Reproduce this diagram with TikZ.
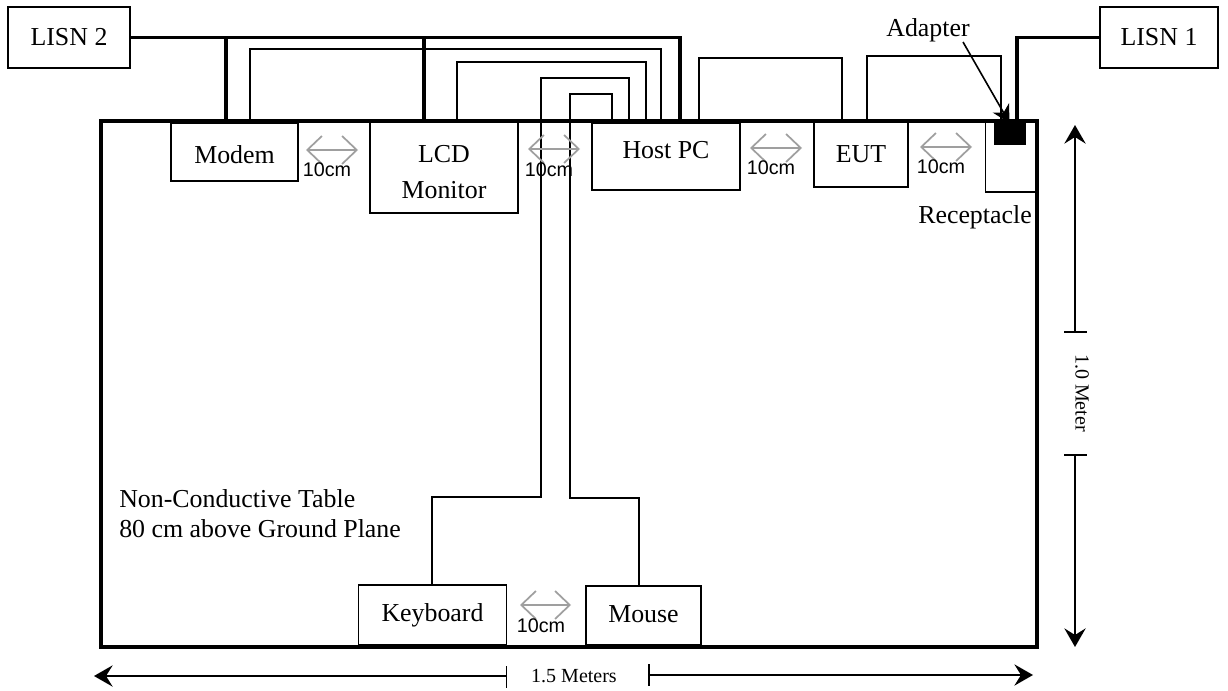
\documentclass[tikz,border=0pt]{standalone}
\usepackage{fontspec}
\setmainfont{Liberation Serif}
\newfontfamily\gapfont{Liberation Sans}
\usetikzlibrary{arrows.meta}
\newcommand{\nudge}[2]{\raisebox{#1}[\height][\depth]{#2}}

\begin{document}
\begin{tikzpicture}[
  x=0.75pt, y=-0.75pt,
  font=\fontsize{19.4}{22.5}\selectfont,
  box/.style 2 args={draw, line width=1.2pt, fill=white, align=center, inner sep=0pt,
              outer sep=0pt, minimum width=#1*0.75pt, minimum height=#2*0.75pt},
  power/.style={line width=2.6pt},
  cable/.style={line width=1.25pt},
  gap/.style={draw=gray!75, line width=1.3pt,
              {Straight Barb[length=11pt,width=21pt]}-{Straight Barb[length=11pt,width=21pt]}},
  gaptext/.style={font=\gapfont\fontsize{14.8}{16}\selectfont, inner sep=0pt},
  dim/.style={line width=1.2pt, -{Stealth[length=14pt,width=16pt,inset=5pt]}},
  dimtext/.style={font=\fontsize{15}{16}\selectfont, inner sep=0pt}]
\useasboundingbox (0,0) rectangle (1228,691);

% units on the table
\node[box={127}{58}] (modem) at (234.5,152) {\nudge{-2.2pt}{Modem}};
\node[box={148}{91}] (lcd) at (444,167.5) {\nudge{-3.5pt}{LCD}\\[5pt]\nudge{-3.5pt}{Monitor}};
\node[box={148}{67}] (host) at (666,156.5) {\nudge{4.5pt}{Host PC}};
\node[box={94}{65}] (eut) at (861,154.5) {EUT};
\node[box={51}{70}] (recept) at (1011,157) {};
\node[draw, fill=black, inner sep=0pt, outer sep=0pt, minimum width=23.25pt,
  minimum height=15.75pt] (adapter) at (1009.5,133.5) {};
\node[box={148}{60}] (keyboard) at (432.5,615) {Keyboard};
\node[box={115}{59}] (mouse) at (643.5,615.5) {\nudge{1pt}{Mouse}};
\node[box={122}{61}] (lisn2) at (69,37.5) {LISN 2};
\node[box={118}{61}] (lisn1) at (1159,37.5) {LISN 1};
\node[inner sep=0pt] (recepttext) at (975,217) {Receptacle};
\node[inner sep=0pt] (adaptertext) at (928,30) {Adapter};

% table
\node[box={936}{526}, line width=2.4pt, fill=none] (table) at (569,384) {};
\node[align=left, anchor=west, inner sep=0pt] (tabletext) at (119,514)
  {Non-Conductive Table\\80 cm above Ground Plane};

% end points on the table edge
\coordinate (pm) at (226,121);
\coordinate (pl) at (424,121);
\coordinate (ph) at (680,121);
\coordinate (pa) at (1017,121);

% power
\draw[power] (lisn2.east) -| (ph);
\draw[power] (pm) -- (pm |- lisn2.east);
\draw[power] (pl) -- (pl |- lisn2.east);
\draw[power] (lisn1.west) -| (pa);

% signal cables
\draw[cable] (250,121) |- (661,49) -- (661,121);
\draw[cable] (457,121) |- (646,62) -- (646,121);
\draw[cable] (keyboard.north -| 432,0) |- (541,497) |- (629,78) -- (629,121);
\draw[cable] (mouse.north -| 639,0) |- (570,498) |- (612,94) -- (612,121);
\draw[cable] (699,121) |- (842,58) -- (842,121);
\draw[cable] (867,121) |- (1001,56) -- (1001,121);

% 10 cm gaps
\draw[gap] (306,150) -- (358,150);
\draw[gap] (528,149) -- (580,149);
\draw[gap] (750,148) -- (802,148);
\draw[gap] (920,147) -- (972,147);
\draw[gap] (520,605) -- (571,605);
\node[gaptext] (gapa) at (327,170) {10cm};
\node[gaptext] (gapb) at (549,170) {10cm};
\node[gaptext] (gapc) at (771,168) {10cm};
\node[gaptext] (gapd) at (941,167) {10cm};
\node[gaptext] (gape) at (541,625.5) {10cm};

% adapter pointer
\draw[dim, -{Stealth[length=13pt,width=14pt,inset=4pt]}] (963,42) -- (adapter.north);

% overall size
\node[dimtext] (widthtext) at (574,676) {1.5 Meters};
\node[dimtext, rotate=-90] (heighttext) at (1082,393) {1.0 Meter};
\coordinate (wl) at (506.5,676);
\coordinate (wr) at (649,675);
\coordinate (ht) at (1075,332);
\coordinate (hb) at (1075,455);
\draw[dim] (wl) -- (94,676);
\draw[dim] (wr) -- (1033,675);
\draw[dim] (ht) -- (1075,125);
\draw[dim] (hb) -- (1075,647);
\draw[cable] (506.5,666) -- (506.5,688);
\draw[cable] (649,664) -- (649,686);
\draw[cable] (1064,332) -- (1087,332);
\draw[cable] (1064,455) -- (1087,455);
\end{tikzpicture}
\end{document}
